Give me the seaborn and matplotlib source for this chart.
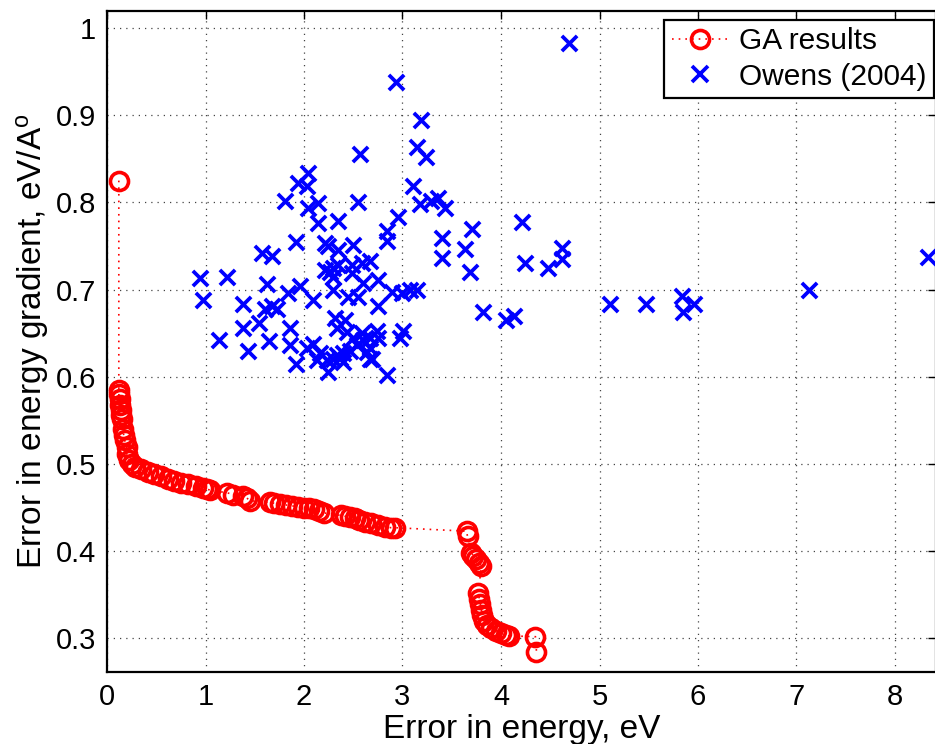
import matplotlib
matplotlib.use("Agg")
import matplotlib.pyplot as plt
from matplotlib.lines import Line2D
import seaborn as sns
import pandas as pd

# GA results (Pareto front), in order along the front
ga_x = [0.12, 0.12, 0.12, 0.13, 0.13, 0.14, 0.14, 0.15, 0.16, 0.17, 0.18, 0.20, 0.20, 0.22,
        0.25, 0.28, 0.35, 0.42, 0.48, 0.55, 0.62, 0.68, 0.75, 0.82, 0.90, 0.97, 1.02, 1.05,
        1.22, 1.28, 1.38, 1.42, 1.45, 1.65, 1.70, 1.76, 1.82, 1.88, 1.94, 2.00, 2.05, 2.10,
        2.15, 2.20, 2.38, 2.42, 2.47, 2.52, 2.56, 2.62, 2.68, 2.75, 2.82, 2.88, 2.92,
        3.65, 3.66, 3.70, 3.72, 3.75, 3.78, 3.80, 3.77, 3.78, 3.79, 3.80, 3.81, 3.83, 3.86,
        3.90, 3.95, 4.00, 4.05, 4.08, 4.35, 4.36]
ga_y = [0.825, 0.585, 0.580, 0.575, 0.568, 0.562, 0.556, 0.552, 0.540, 0.533, 0.527, 0.520,
        0.512, 0.505, 0.500, 0.497, 0.494, 0.491, 0.489, 0.486, 0.483, 0.480, 0.478, 0.477,
        0.475, 0.473, 0.471, 0.470, 0.467, 0.465, 0.463, 0.461, 0.458, 0.456, 0.455, 0.454,
        0.453, 0.452, 0.451, 0.450, 0.449, 0.448, 0.446, 0.444, 0.441, 0.440, 0.439, 0.438,
        0.436, 0.434, 0.432, 0.430, 0.428, 0.427, 0.427,
        0.423, 0.417, 0.398, 0.395, 0.391, 0.387, 0.383, 0.352, 0.345, 0.340, 0.333, 0.327,
        0.320, 0.315, 0.312, 0.309, 0.306, 0.304, 0.303, 0.302, 0.285]

# Owens (2004)
ow_x = [4.69, 2.93, 3.19, 2.57, 3.15, 3.24, 2.04, 1.94, 2.03, 3.11, 1.81, 2.04, 2.14, 2.55,
        3.18, 3.29, 3.36, 3.43, 2.14, 2.35, 2.95, 2.84, 2.84, 3.40, 3.71, 3.63, 3.40, 3.69,
        4.21, 4.24, 4.48, 4.62, 4.62, 8.33, 1.92, 2.21, 2.24, 2.35, 2.50, 1.57, 1.68, 0.94,
        1.22, 1.62, 0.97, 2.29, 2.35, 2.26, 2.21, 2.49, 2.59, 2.67, 2.49, 2.60, 2.75, 2.29,
        1.96, 1.84, 2.09, 2.45, 2.55, 2.89, 3.00, 3.08, 3.15, 2.75, 1.38, 1.60, 1.68, 1.73,
        1.54, 1.38, 1.14, 1.43, 1.64, 1.86, 1.86, 1.92, 2.09, 2.03, 2.31, 2.42, 2.34, 2.44,
        2.50, 2.59, 2.67, 2.74, 2.75, 3.01, 2.97, 2.67, 2.67, 2.84, 2.16, 2.23, 2.34, 2.40,
        2.47, 2.54, 2.60, 2.64, 2.69, 2.24, 2.29, 2.37, 2.13, 2.40, 3.82, 4.05, 4.13, 5.11,
        5.47, 5.84, 5.85, 5.96, 7.13, 2.29]
ow_y = [0.983, 0.938, 0.894, 0.856, 0.863, 0.852, 0.834, 0.822, 0.819, 0.819, 0.802, 0.794,
        0.799, 0.800, 0.798, 0.802, 0.805, 0.794, 0.776, 0.779, 0.783, 0.767, 0.756, 0.759,
        0.770, 0.747, 0.736, 0.720, 0.777, 0.731, 0.725, 0.748, 0.735, 0.737, 0.755, 0.754,
        0.750, 0.745, 0.751, 0.742, 0.738, 0.713, 0.714, 0.707, 0.688, 0.725, 0.728, 0.720,
        0.722, 0.728, 0.731, 0.733, 0.719, 0.708, 0.711, 0.699, 0.704, 0.696, 0.688, 0.691,
        0.691, 0.697, 0.696, 0.699, 0.700, 0.681, 0.683, 0.678, 0.681, 0.678, 0.662, 0.656,
        0.642, 0.630, 0.641, 0.656, 0.637, 0.615, 0.638, 0.633, 0.667, 0.665, 0.656, 0.651,
        0.645, 0.650, 0.645, 0.653, 0.644, 0.653, 0.645, 0.633, 0.621, 0.602, 0.627, 0.619,
        0.625, 0.627, 0.630, 0.636, 0.642, 0.628, 0.621, 0.605, 0.621, 0.622, 0.619, 0.617,
        0.674, 0.665, 0.670, 0.683, 0.684, 0.693, 0.674, 0.683, 0.699, 0.715]

x_ticks = [0, 1, 2, 3, 4, 5, 6, 7, 8]
y_ticks = [0.3, 0.4, 0.5, 0.6, 0.7, 0.8, 0.9, 1.0]
y_tick_labels = ["0.3", "0.4", "0.5", "0.6", "0.7", "0.8", "0.9", "1"]

sns.set_theme(style="white")
plt.rcParams['font.family'] = ['Liberation Sans', 'DejaVu Sans']
plt.rcParams['mathtext.fontset'] = 'custom'
plt.rcParams['mathtext.rm'] = 'Liberation Sans'
plt.rcParams['mathtext.it'] = 'Liberation Sans'
plt.rcParams['text.color'] = 'black'
plt.rcParams['axes.labelcolor'] = 'black'

fig = plt.figure(figsize=(9.35, 7.44), dpi=100)
W, H = 935, 744
left_px, right_px, top_px, bot_px = 107, 936, 11, 672
ax = fig.add_axes([left_px / W, (H - bot_px) / H, (right_px - left_px) / W, (bot_px - top_px) / H])

ga_df = pd.DataFrame({"x": ga_x, "y": ga_y})
ow_df = pd.DataFrame({"x": ow_x, "y": ow_y})

sns.lineplot(data=ga_df, x="x", y="y", sort=False, estimator=None, ax=ax,
             color="red", linestyle=(0, (1, 3)), linewidth=1.2,
             marker="o", markersize=13, markerfacecolor="none",
             markeredgecolor="red", markeredgewidth=2.6, zorder=3)
sns.scatterplot(data=ow_df, x="x", y="y", ax=ax, marker="x", s=120,
                color="blue", linewidth=2.7, zorder=4)

px_per_unit = 98.5
ax.set_xlim(0, (right_px - left_px) / px_per_unit)
ax.set_ylim(0.2615, 1.0195)
ax.set_xticks(x_ticks)
ax.set_xticklabels([str(t) for t in x_ticks])
ax.set_yticks(y_ticks)
ax.set_yticklabels(y_tick_labels)

ax.grid(True, linestyle=(0, (1, 4)), color="#444444", linewidth=0.9)
ax.tick_params(direction="in", length=6, width=1, top=True, right=True,
               labelsize=21, colors="black", pad=8)
for s in ax.spines.values():
    s.set_color("black")
    s.set_linewidth(1.6)

ax.set_xlabel("Error in energy, eV", fontsize=24, labelpad=2)
ax.set_ylabel(r"Error in energy gradient, eV/A$^{\mathrm{o}}$", fontsize=24, labelpad=3)

handles = [
    Line2D([], [], color="red", linestyle=(0, (1, 3)), linewidth=1.2, marker="o",
           markersize=13, markerfacecolor="none", markeredgecolor="red", markeredgewidth=2.6),
    Line2D([], [], color="blue", linestyle="none", marker="x", markersize=11,
           markeredgewidth=2.7),
]
leg = ax.legend(handles, ["GA results", "Owens (2004)"], loc="upper right",
                bbox_to_anchor=(934 / W, 1 - 20 / H), bbox_transform=fig.transFigure,
                fontsize=21.5, frameon=True, fancybox=False, framealpha=1,
                edgecolor="black", borderpad=0.25, labelspacing=0.25,
                handlelength=1.9, handletextpad=0.35, borderaxespad=0)
leg.get_frame().set_linewidth(1.6)

fig.savefig("out.png", dpi=100)
